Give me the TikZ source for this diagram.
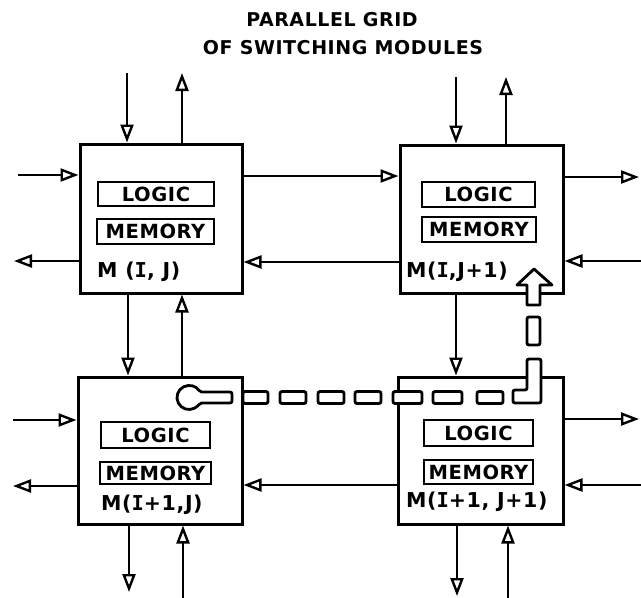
\documentclass[tikz,border=0pt]{standalone}
\usepackage{fontspec}
\setmainfont{DejaVu Sans}[LetterSpace=2]
\newfontfamily\boldfont{DejaVu Sans Bold}[LetterSpace=3]
\newfontfamily\serIfont{DejaVu Sans Mono Bold}
\newcommand{\RI}{{\serIfont I}}
\usetikzlibrary{arrows.meta}
\begin{document}
\begin{tikzpicture}[x=1pt,y=1pt,
  module/.style={draw, line width=3pt, inner sep=0pt},
  unit/.style={draw, line width=2.6pt, inner sep=0pt, font=\boldfont\fontsize{19.5}{21}\selectfont},
  lbl/.style={anchor=west, inner sep=0pt, font=\boldfont\fontsize{20.5}{22}\selectfont},
  ttl/.style={inner sep=0pt, font=\boldfont\fontsize{19}{21}\selectfont},
  arr/.style={line width=2pt, -{Triangle[open, length=18pt, width=13pt, line width=2.4pt]}},
  dashpart/.style={draw, fill=white, line width=2.8pt, rounded corners=2pt}
]
\useasboundingbox (0,0) rectangle (641,-598);

% title
\node[ttl] (title1) at (332,-20) {PARALLEL GRID};
\node[ttl] (title2) at (343,-48) {OF SWITCHING MODULES};

% modules
\node[module, minimum width=162pt, minimum height=149pt] (b1) at (161,-218.5) {};
\node[module, minimum width=163pt, minimum height=148pt] (b2) at (481.5,-219) {};
\node[module, minimum width=164pt, minimum height=147pt] (b3) at (160,-450.5) {};
\node[module, minimum width=165pt, minimum height=147pt] (b4) at (480.5,-450.5) {};

% inner units
\node[unit, minimum width=116pt, minimum height=24pt] (lg1) at (156,-194) {LOGIC};
\node[unit, minimum width=117pt, minimum height=25pt] (mm1) at (155.5,-231.5) {MEMORY};
\node[unit, minimum width=113pt, minimum height=25pt] (lg2) at (478.5,-194.5) {LOGIC};
\node[unit, minimum width=114pt, minimum height=25pt] (mm2) at (479,-229.5) {MEMORY};
\node[unit, minimum width=109pt, minimum height=26pt] (lg3) at (155.5,-435) {LOGIC};
\node[unit, minimum width=111pt, minimum height=22pt] (mm3) at (155.5,-473) {MEMORY};
\node[unit, minimum width=109pt, minimum height=26pt] (lg4) at (478.5,-433) {LOGIC};
\node[unit, minimum width=109pt, minimum height=24pt] (mm4) at (478.5,-472) {MEMORY};

% labels
\node[lbl] (n1) at (97,-272) {M (\RI, J)};
\node[lbl] (n2) at (406,-272) {M(\RI,J+1)};
\node[lbl] (n3) at (101,-505) {M(\RI+1,J)};
\node[lbl] (n4) at (406,-502) {M(\RI+1, J+1)};

% free ends
\coordinate (t1in) at (127,-73);
\coordinate (t1out) at (182,-73);
\coordinate (l1in) at (18,-175);
\coordinate (l1out) at (14,-261);
\coordinate (h12a) at (0,-176);
\coordinate (h12b) at (0,-262);
\coordinate (v13a) at (128,0);
\coordinate (v13b) at (182,0);
\coordinate (t2in) at (456,-77);
\coordinate (t2out) at (506,-77);
\coordinate (r2out) at (639,-177);
\coordinate (r2in) at (641,-261);
\coordinate (v24) at (456,0);
\coordinate (l3in) at (13,-420);
\coordinate (l3out) at (13,-486);
\coordinate (bo3out) at (129,-592);
\coordinate (bo3in) at (183,-598);
\coordinate (h34) at (0,-485);
\coordinate (r4out) at (639,-419);
\coordinate (r4in) at (641,-485);
\coordinate (bo4out) at (457,-596);
\coordinate (bo4in) at (508,-598);

% module 1
\draw[arr] (t1in) -- (t1in |- b1.north);
\draw[arr] (t1out |- b1.north) -- (t1out);
\draw[arr] (l1in) -- (l1in -| b1.west);
\draw[arr] (l1out -| b1.west) -- (l1out);
\draw[arr] (b1.east |- h12a) -- (b2.west |- h12a);
\draw[arr] (b2.west |- h12b) -- (b1.east |- h12b);
\draw[arr] (b1.south -| v13a) -- (b3.north -| v13a);
\draw[arr] (b3.north -| v13b) -- (b1.south -| v13b);
% module 2
\draw[arr] (t2in) -- (t2in |- b2.north);
\draw[arr] (t2out |- b2.north) -- (t2out);
\draw[arr] (r2out -| b2.east) -- (r2out);
\draw[arr] (r2in) -- (r2in -| b2.east);
\draw[arr] (b2.south -| v24) -- (b4.north -| v24);
% module 3
\draw[arr] (l3in) -- (l3in -| b3.west);
\draw[arr] (l3out -| b3.west) -- (l3out);
\draw[arr] (bo3out |- b3.south) -- (bo3out);
\draw[arr] (bo3in) -- (bo3in |- b3.south);
\draw[arr] (b4.west |- h34) -- (b3.east |- h34);
% module 4
\draw[arr] (r4out -| b4.east) -- (r4out);
\draw[arr] (r4in) -- (r4in -| b4.east);
\draw[arr] (bo4out |- b4.south) -- (bo4out);
\draw[arr] (bo4in) -- (bo4in |- b4.south);

% dashed transfer path
\draw[dashpart] (232,-392) -- (199.66,-392) arc[start angle=27.3, end angle=332.7, radius=12] -- (232,-403) -- cycle;
\draw[dashpart] (243,-391.5) rectangle (268,-403.5);
\draw[dashpart] (280,-391.5) rectangle (306,-403.5);
\draw[dashpart] (318,-391.5) rectangle (344,-403.5);
\draw[dashpart] (355,-391.5) rectangle (381,-403.5);
\draw[dashpart] (393,-391.5) rectangle (422,-403.5);
\draw[dashpart] (433,-391.5) rectangle (462,-403.5);
\draw[dashpart] (477,-391.5) rectangle (503,-403.5);
\draw[dashpart] (513,-390) -- (527,-390) -- (527,-359) -- (541,-359) -- (541,-403) -- (513,-403) -- cycle;
\draw[dashpart] (527,-317) rectangle (540,-345);
\draw[draw, fill=white, line width=2.8pt, line join=round] (527,-305) -- (527,-285) -- (517,-285) -- (534,-269) -- (552,-285) -- (540,-285) -- (540,-305) -- cycle;
\end{tikzpicture}
\end{document}
